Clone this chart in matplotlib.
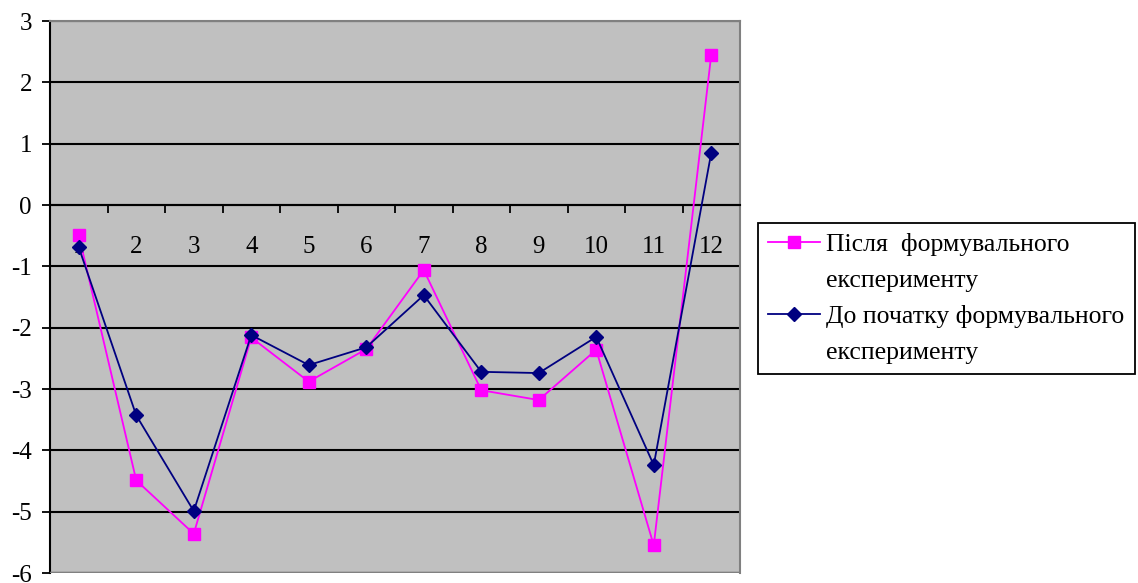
import numpy as np
import matplotlib.pyplot as plt
from matplotlib.lines import Line2D

plt.rcParams['font.family'] = ['Liberation Serif', 'DejaVu Serif']

# data
categories = list(range(1, 13))
after = [-0.49, -4.49, -5.36, -2.16, -2.88, -2.35, -1.06, -3.02, -3.18, -2.36, -5.55, 2.45]
before = [-0.69, -3.43, -4.99, -2.12, -2.61, -2.32, -1.47, -2.72, -2.74, -2.15, -4.24, 0.85]
label_after = ["Після  формувального", "експерименту"]
label_before = ["До початку формувального", "експерименту"]
yticks = list(range(-6, 4))

fig = plt.figure(figsize=(11.38, 5.83), dpi=100)
ax = fig.add_axes([50 / 1138, 1 - 573 / 583, 690 / 1138, 552 / 583])
ax.set_facecolor("#C0C0C0")
ax.set_axisbelow(True)

x = np.array(categories)
l1, = ax.plot(x, after, color="#FF00FF", lw=1.3, marker="s", ms=8.5, zorder=4)
l2, = ax.plot(x, before, color="#000080", lw=1.3, marker="D", ms=7, zorder=5)

ax.set_xlim(0.5, 12.5)
ax.set_ylim(-6, 3)

# y axis
ax.set_yticks(yticks)
ax.set_yticklabels([str(v) for v in yticks])
ax.yaxis.grid(True, color="black", lw=1.5)
ax.tick_params(axis="y", direction="out", length=6, width=1.3, pad=7, labelsize=18, colors="black")

# category axis crossing at zero
ax.spines["bottom"].set_position(("data", 0))
ax.spines["bottom"].set_color("black")
ax.spines["bottom"].set_linewidth(1.5)
ax.set_xticks(x)
ax.set_xticklabels([str(c) for c in categories])
ax.set_xticks(np.arange(0.5, 13.0, 1.0), minor=True)
ax.tick_params(axis="x", which="major", length=0, pad=22, labelsize=18)
ax.tick_params(axis="x", which="minor", direction="out", length=6, width=1.3, color="black")

ax.spines["left"].set_color("black")
ax.spines["left"].set_linewidth(1.5)
for s in ["top", "right"]:
    ax.spines[s].set_color("#808080")
    ax.spines[s].set_linewidth(1.5)
ax.axhline(-6, color="#808080", lw=2.5, zorder=3)

# legend: marker sits on the first line of each wrapped label
blank = Line2D([], [], linestyle="none", marker="none")
handles = [l1, blank, l2, blank]
labels = label_after + label_before
leg = fig.legend(handles, labels, loc="upper left", bbox_to_anchor=(758 / 1138, 1 - 223 / 583),
                 fontsize=18.5, frameon=True, fancybox=False, framealpha=1,
                 edgecolor="black", handlelength=2.0, handletextpad=0.25,
                 borderpad=0.4, labelspacing=0.5, borderaxespad=0)
leg.get_frame().set_linewidth(1.3)

plt.savefig("out.png", dpi=100)
